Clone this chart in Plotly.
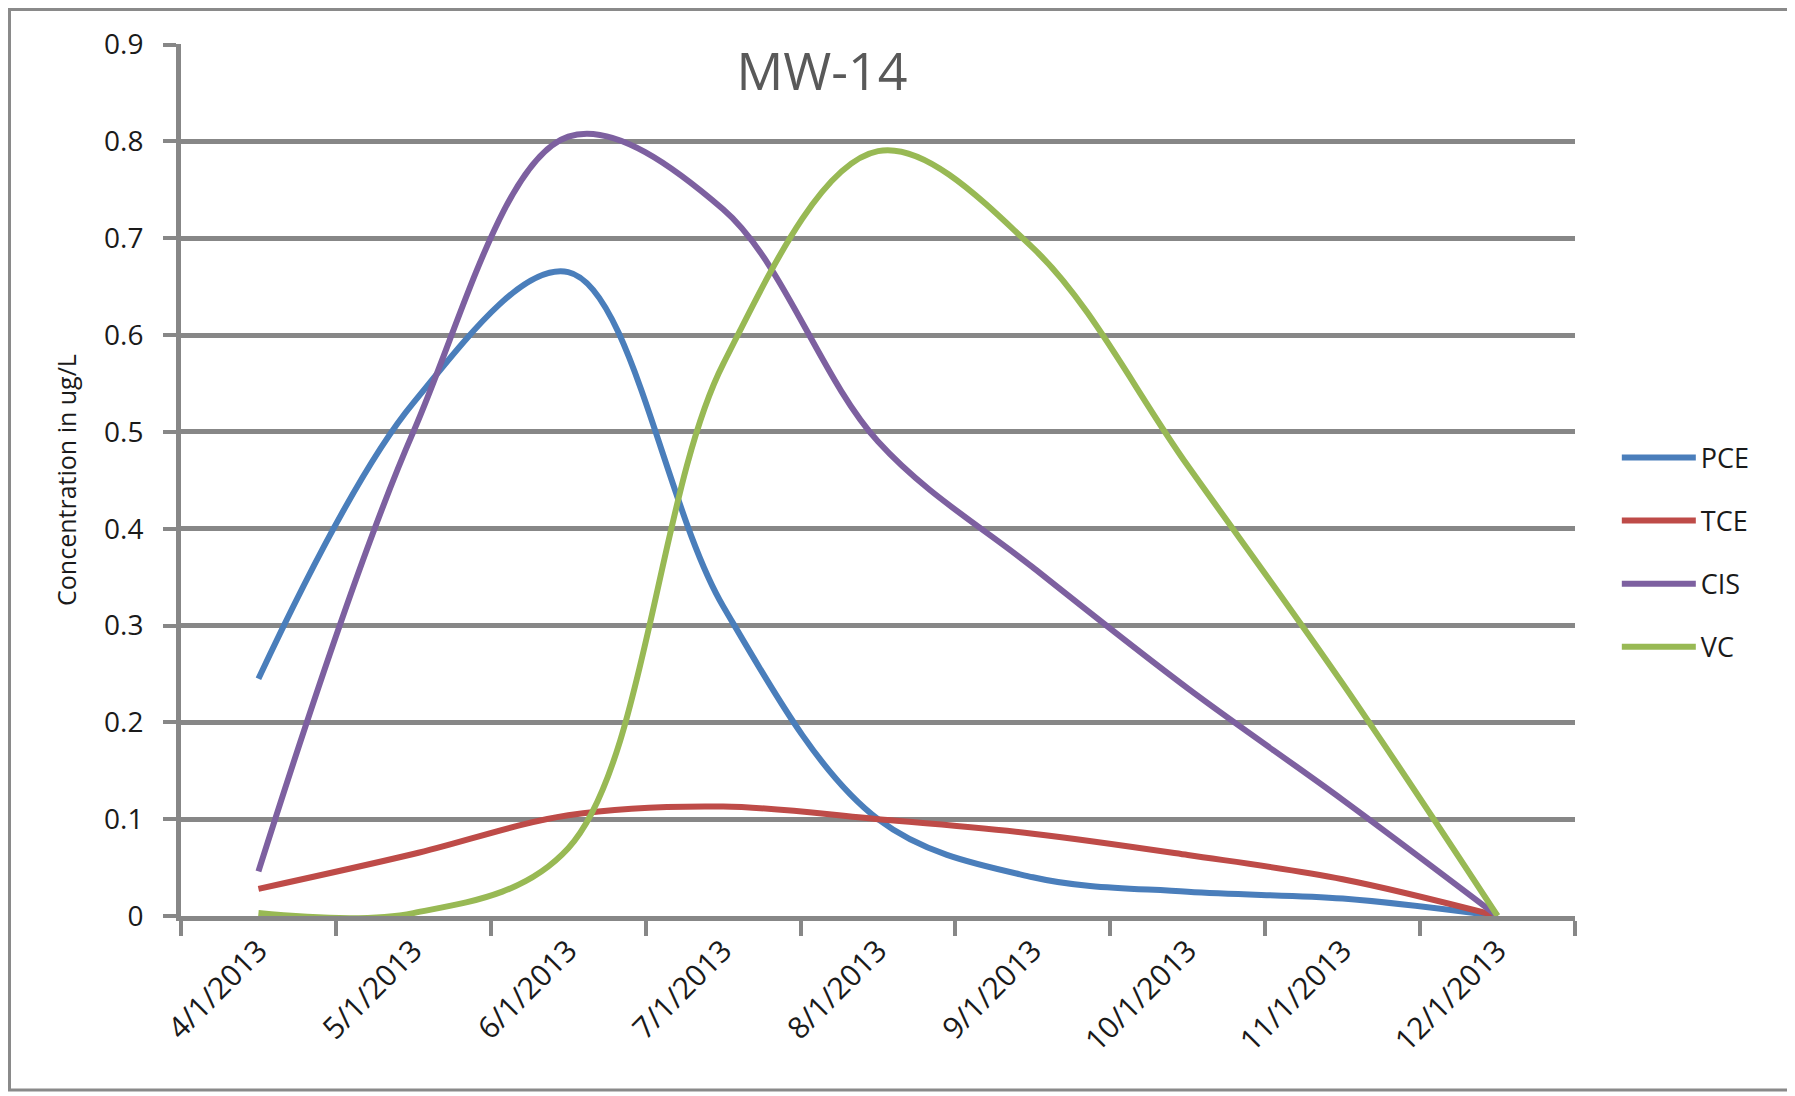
import plotly.graph_objects as go

categories = ["4/1/2013", "5/1/2013", "6/1/2013", "7/1/2013", "8/1/2013",
              "9/1/2013", "10/1/2013", "11/1/2013", "12/1/2013"]
pce = [0.245, 0.53, 0.665, 0.32, 0.10, 0.04, 0.025, 0.018, 0.0]
tce = [0.028, 0.064, 0.104, 0.113, 0.10, 0.085, 0.063, 0.038, 0.0]
cis = [0.046, 0.50, 0.805, 0.73, 0.49, 0.36, 0.235, 0.12, 0.0]
vc = [0.003, 0.003, 0.07, 0.57, 0.79, 0.69, 0.465, 0.24, 0.0]
y_ticks = [0, 0.1, 0.2, 0.3, 0.4, 0.5, 0.6, 0.7, 0.8, 0.9]

series = [("PCE", pce, "#4A7EBB"), ("TCE", tce, "#BE4B48"),
          ("CIS", cis, "#7D60A0"), ("VC", vc, "#98B954")]

FONT = "Open Sans"
GRID = "#878787"

fig = go.Figure()
for name, vals, color in series:
    fig.add_trace(go.Scatter(
        x=categories, y=vals, name=name, mode="lines", legendgroup=name,
        line=dict(color=color, width=6, shape="spline", smoothing=1.0)))

W, H = 1795, 1096
L, R, T, B = 173, 228, 36, 188
pw, ph = W - L - R, H - T - B

fig.update_layout(
    width=W, height=H,
    margin=dict(l=L, r=R, t=T, b=B),
    paper_bgcolor="white", plot_bgcolor="white",
    font=dict(family=FONT, size=28, color="#1a1a1a"),
    title=dict(text="MW-14", x=814 / W, xanchor="center",
               y=1 - 64 / H, yanchor="middle",
               font=dict(family=FONT, size=52, color="#595959")),
    showlegend=True,
    legend=dict(x=1.03, xanchor="left", y=0.417, yanchor="middle",
                tracegroupgap=25, font=dict(size=27, color="#1a1a1a"),
                bgcolor="rgba(0,0,0,0)", itemwidth=74),
    xaxis=dict(type="category", categoryorder="array", categoryarray=categories,
               range=[-0.5, len(categories) - 0.5], tickson="boundaries",
               ticks="outside", ticklen=15, tickwidth=4, tickcolor=GRID,
               showline=True, linecolor=GRID, linewidth=5, showgrid=False,
               tickangle=-45, tickfont=dict(size=30), zeroline=False),
    yaxis=dict(range=[0, 0.9006], tickmode="array", tickvals=y_ticks,
               ticktext=[f"{v:g}" for v in y_ticks],
               showgrid=True, gridcolor=GRID, gridwidth=4.5,
               showline=True, linecolor=GRID, linewidth=5,
               ticks="outside", ticklen=13, tickwidth=4, tickcolor=GRID,
               ticklabelstandoff=14, zeroline=False, tickfont=dict(size=28),
               title=dict(text="Concentration in ug/L", standoff=22,
                          font=dict(size=25))),
    shapes=[dict(type="rect", xref="paper", yref="paper",
                 x0=(1.5 - L) / pw, x1=(W - 13 - L) / pw,
                 y0=(H - B - (H - 14)) / ph, y1=(H - B - 1.5) / ph,
                 line=dict(color="#8a8a8a", width=3), layer="below")],
)

fig.write_html("out.html")
